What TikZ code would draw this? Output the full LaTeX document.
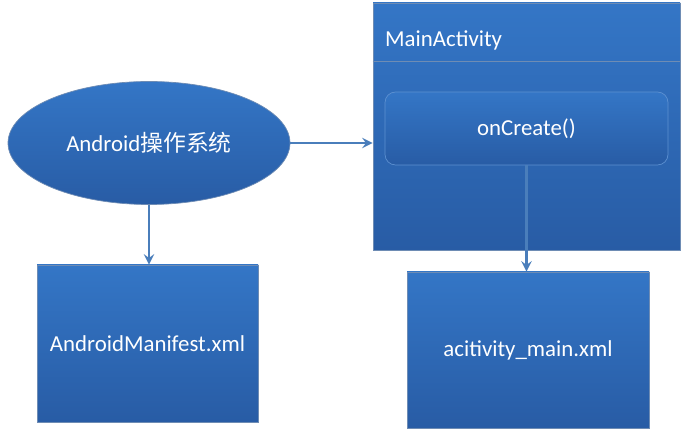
\documentclass[tikz,border=0pt]{standalone}
\usepackage{fontspec}
\setmainfont{Carlito}
\newfontfamily\cjk{Noto Sans CJK SC}
\usetikzlibrary{shapes.geometric,arrows}
\definecolor{boxtop}{RGB}{52,118,198}
\definecolor{boxbot}{RGB}{40,92,165}
\definecolor{boxline}{RGB}{110,140,180}
\definecolor{arrowblue}{RGB}{74,126,187}
\tikzset{
  block/.style={rectangle, draw=boxline, top color=boxtop, bottom color=boxbot, text=white, font=\fontsize{13}{15}\selectfont},
  conn/.style={->, >=stealth, draw=arrowblue, line width=1.6pt}
}

\begin{document}
\begin{tikzpicture}
\useasboundingbox (0,0) rectangle (13.68,8.78);

\node[block, ellipse, minimum width=5.64cm, minimum height=2.46cm] (OS) at (2.98,5.92) {Android{\cjk 操作系统}};
\node[block, minimum width=6.14cm, minimum height=4.94cm] (Main) at (10.53,6.25) {};
\draw[boxline] (Main.west |- 0,7.56) -- (Main.east |- 0,7.56);
\node[anchor=west, text=white, font=\fontsize{13}{15}\selectfont] (MainLbl) at (7.58,7.98) {MainActivity};
\node[block, rounded corners=6pt, draw=boxtop!80!white, minimum width=5.66cm, minimum height=1.46cm] (Create) at (10.53,6.21) {onCreate()};

\node[block, minimum width=4.42cm, minimum height=3.14cm] (Manifest) at (2.95,1.91) {AndroidManifest.xml};
\node[block, minimum width=4.84cm, minimum height=3.12cm] (Layout) at (10.56,1.78) {acitivity\_main.xml};

\draw[conn] (OS.east) -- (OS.east -| Main.west);
\draw[conn] (OS.south) -- (OS.south |- Manifest.north);
\draw[conn] (Create.south) -- (Create.south |- Layout.north);

\end{tikzpicture}
\end{document}
